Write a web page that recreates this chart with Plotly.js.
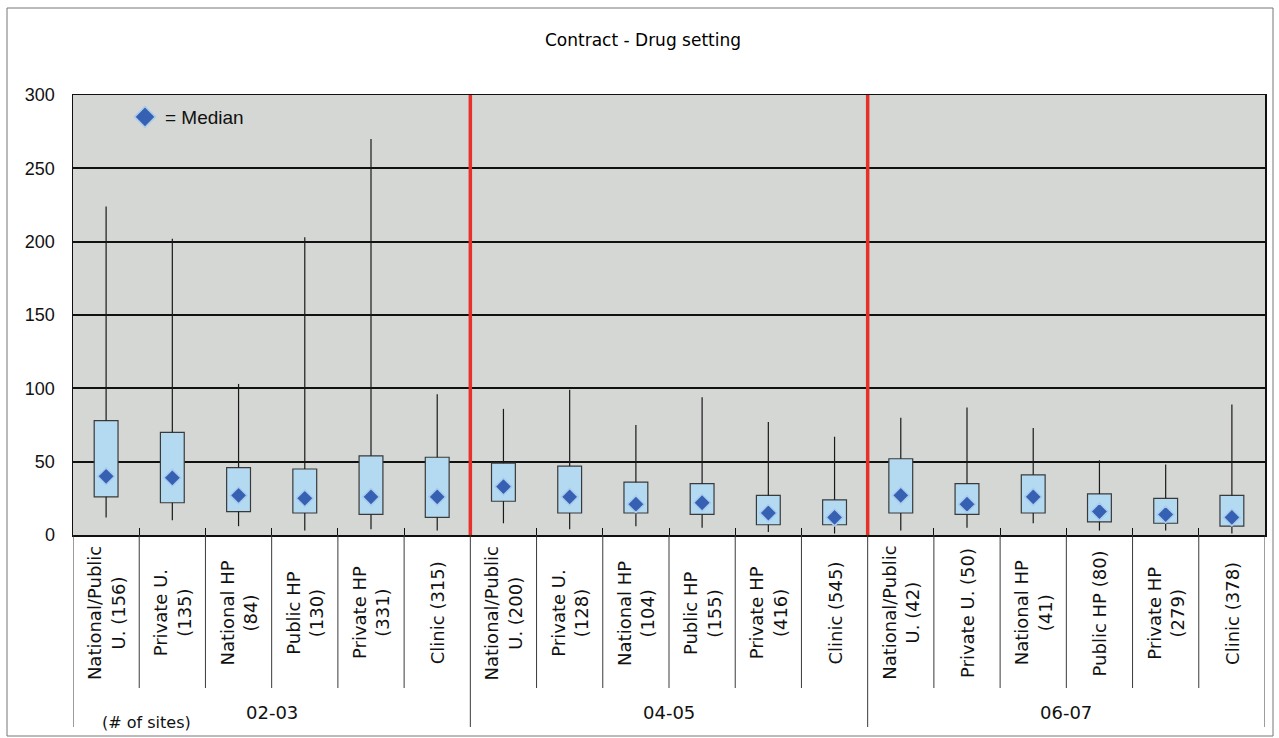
<!DOCTYPE html>
<html>
<head>
<meta charset="utf-8">
<script src="https://cdn.plot.ly/plotly-3.0.1.min.js"></script>
<style>
  html, body { margin: 0; padding: 0; background: #ffffff; }
  #chart { width: 1279px; height: 738px; }
</style>
</head>
<body>
<div id="chart"></div>
<script>
// ---- data ----
const groups = ["02-03", "04-05", "06-07"];
const categoryLabels = [
  "National/Public<br>U. (156)", "Private U.<br>(135)", "National HP<br>(84)", "Public HP<br>(130)", "Private HP<br>(331)", "Clinic (315)",
  "National/Public<br>U. (200)", "Private U.<br>(128)", "National HP<br>(104)", "Public HP<br>(155)", "Private HP<br>(416)", "Clinic (545)",
  "National/Public<br>U. (42)", "Private U. (50)", "National HP<br>(41)", "Public HP (80)", "Private HP<br>(279)", "Clinic (378)"
];
const upperWhisker = [224, 202, 103, 203, 270, 96,   86, 99, 75, 94, 77, 67,   80, 87, 73, 51, 48, 89];
const q3Values     = [ 78,  70,  46,  45,  54, 53,   49, 47, 36, 35, 27, 24,   52, 35, 41, 28, 25, 27];
const medianValues = [ 40,  39,  27,  25,  26, 26,   33, 26, 21, 22, 15, 12,   27, 21, 26, 16, 14, 12];
const q1Values     = [ 26,  22,  16,  15,  14, 12,   23, 15, 15, 14,  7,  7,   15, 14, 15,  9,  8,  6];
const lowerWhisker = [ 12,  10,   6,   3,   4,  3,    8,  4,  6,  5,  2,  1,    3,  5,  8,  3,  3,  1];
const yTicks = [0, 50, 100, 150, 200, 250, 300];

// ---- derived structures ----
const n = categoryLabels.length;
const perGroup = n / groups.length;
const xPos = categoryLabels.map((_, i) => i);

// whisker segments (built from the data arrays)
const wx = [], wy = [];
for (let i = 0; i < n; i++) {
  wx.push(i, i, null, i, i, null);
  wy.push(upperWhisker[i], q3Values[i], null, q1Values[i], lowerWhisker[i], null);
}

const traces = [
  {
    type: "scatter", mode: "lines", x: wx, y: wy,
    line: { color: "#1a1a1a", width: 1.2 },
    hoverinfo: "skip", showlegend: false
  },
  {
    type: "bar", x: xPos,
    y: q3Values.map((v, i) => v - q1Values[i]),
    base: q1Values, width: 0.36,
    marker: { color: "#b4daf2", line: { color: "#3a3a3a", width: 1.2 } },
    showlegend: false, hoverinfo: "skip"
  },
  {
    type: "scatter", mode: "markers", x: xPos, y: medianValues,
    marker: { symbol: "diamond", size: 13, color: "#3661b2", line: { color: "#a9cbee", width: 1.5 } },
    name: "= Median", showlegend: false
  },
  {
    type: "scatter", mode: "markers", x: [null], y: [null],
    marker: { symbol: "diamond", size: 16, color: "#3661b2", line: { color: "#a9cbee", width: 1.5 } },
    name: "= Median", showlegend: true, hoverinfo: "skip"
  }
];

// ---- layout helpers ----
const plotTop = 95, plotBottom = 535, plotH = plotBottom - plotTop;
const plotLeft = 73, plotRight = 1265, plotW = plotRight - plotLeft;
const py = (Y) => (plotBottom - Y) / plotH;   // pixel y -> paper y
const px = (X) => (X - plotLeft) / plotW;     // pixel x -> paper x

const shapes = [];
// red separators between periods
for (let g = 1; g < groups.length; g++) {
  shapes.push({ type: "line", xref: "x", yref: "paper", x0: g * perGroup - 0.5, x1: g * perGroup - 0.5, y0: 0, y1: 1,
    line: { color: "#e8302a", width: 3.5 } });
}
// table lines under the axis
for (let k = 0; k <= n; k++) {
  const isGroup = k % perGroup === 0;
  shapes.push({ type: "line", xref: "x", yref: "paper", x0: k - 0.5, x1: k - 0.5, y0: 0, y1: isGroup ? py(727) : py(688),
    line: { color: "#3a3a3a", width: 1 } });
}
// outer frame
shapes.push({ type: "rect", xref: "paper", yref: "paper", x0: px(7), x1: px(1273), y0: py(736), y1: py(8),
  line: { color: "#777777", width: 1 }, fillcolor: "rgba(0,0,0,0)", layer: "below" });

const annotations = [];
categoryLabels.forEach((lab, i) => {
  annotations.push({ xref: "x", yref: "paper", x: i, y: py(613), text: lab, showarrow: false,
    textangle: -90, xanchor: "center", yanchor: "middle", align: "center",
    font: { family: "DejaVu Sans", size: 18, color: "#111" } });
});
groups.forEach((g, j) => {
  annotations.push({ xref: "x", yref: "paper", x: j * perGroup + (perGroup - 1) / 2, y: py(712), text: g, showarrow: false,
    xanchor: "center", yanchor: "middle", font: { family: "DejaVu Sans", size: 18, color: "#111" } });
});
annotations.push({ xref: "paper", yref: "paper", x: px(146), y: py(722), text: "(# of sites)", showarrow: false,
  xanchor: "center", yanchor: "middle", font: { family: "DejaVu Sans", size: 16, color: "#111" } });

const layout = {
  width: 1279, height: 738,
  margin: { l: plotLeft, r: 1279 - plotRight, t: plotTop, b: 738 - plotBottom, pad: 0 },
  paper_bgcolor: "#ffffff",
  plot_bgcolor: "#d4d7d3",
  title: { text: "Contract - Drug setting", x: 643 / 1279, xref: "container", xanchor: "center",
    y: 1 - 40 / 738, yref: "container", yanchor: "middle",
    font: { family: "DejaVu Sans", size: 17, color: "#000" } },
  showlegend: true,
  legend: { x: px(125), y: py(117), xanchor: "left", yanchor: "middle", bgcolor: "rgba(0,0,0,0)",
    font: { family: "Liberation Sans, Arial", size: 19, color: "#111" } },
  xaxis: {
    range: [-0.5, n - 0.5], tickvals: xPos.slice(1).map(v => v - 0.5), showticklabels: false,
    ticks: "inside", ticklen: 7, tickcolor: "#111", tickwidth: 1,
    showgrid: false, zeroline: false, showline: true, mirror: true, linecolor: "#111", linewidth: 1.5
  },
  yaxis: {
    range: [0, 300], tickvals: yTicks, ticktext: yTicks.map(String),
    showgrid: true, gridcolor: "#111", gridwidth: 1.8, zeroline: false,
    showline: true, mirror: true, linecolor: "#111", linewidth: 1.5,
    ticks: "", ticklabelstandoff: 13,
    tickfont: { family: "Liberation Sans, Arial", size: 18, color: "#111" }
  },
  bargap: 0,
  shapes: shapes,
  annotations: annotations
};

Plotly.newPlot("chart", traces, layout, { staticPlot: true, displayModeBar: false });
</script>
</body>
</html>
